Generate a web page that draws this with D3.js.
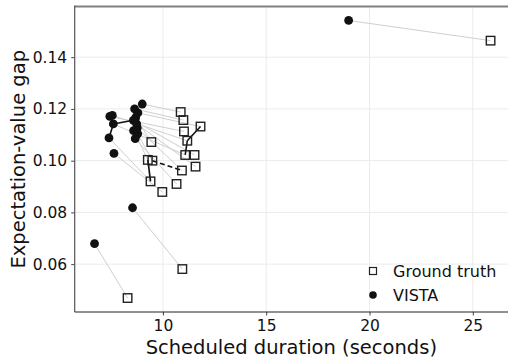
<!DOCTYPE html>
<html>
<head>
<meta charset="utf-8">
<script src="https://cdn.jsdelivr.net/npm/d3@7"></script>
<style>
  body { margin: 0; background: #fff; }
  text { font-family: "DejaVu Sans", sans-serif; fill: #111; }
</style>
</head>
<body>
<div id="chart"></div>
<script>
// VISTA predictions (filled circles), paired by index with the ground truth
const vistaX = [9.00, 8.63, 8.79, 7.43, 8.68, 7.55, 7.60, 8.57, 8.58, 8.78, 8.76, 8.73, 7.39, 8.66, 7.63, 8.53, 6.69, 18.99];
const vistaY = [0.1219, 0.1200, 0.1185, 0.1171, 0.1166, 0.1175, 0.1142, 0.1156, 0.1116, 0.1104, 0.1126, 0.1142, 0.1088, 0.1085, 0.1028, 0.0818, 0.0679, 0.1542];
// ground truth (open squares)
const truthX = [10.86, 10.99, 11.82, 11.02, 9.44, 11.18, 11.08, 11.53, 9.27, 9.49, 10.92, 11.58, 9.40, 10.66, 9.97, 10.94, 8.29, 25.86];
const truthY = [0.1188, 0.1157, 0.1132, 0.1113, 0.1072, 0.1077, 0.1022, 0.1022, 0.1003, 0.1000, 0.0962, 0.0977, 0.0920, 0.0910, 0.0879, 0.0581, 0.0469, 0.1464];
// dark links between points of the same kind (index pairs)
const vistaLinks = [[3, 6], [6, 12], [6, 7], [1, 7]];
const truthLinks = [[2, 5], [12, 8], [5, 6]];
const truthDashed = [[9, 10]];

const xTicks = [10, 15, 20, 25];
const yTicks = [0.06, 0.08, 0.10, 0.12, 0.14];
const xLabel = 'Scheduled duration (seconds)';
const yLabel = 'Expectation-value gap';
const legendNames = ['Ground truth', 'VISTA'];

const W = 508, H = 358;
const margin = { top: 6.5, right: -2.4, bottom: 46, left: 74.7 };

const x = d3.scaleLinear().domain([5.73, 26.82]).range([margin.left, W - margin.right]);
const y = d3.scaleLinear().domain([0.0415, 0.1596]).range([H - margin.bottom, margin.top]);

const svg = d3.select('#chart').append('svg')
  .attr('width', W).attr('height', H);

// grid
svg.append('g').selectAll('line').data(xTicks).enter().append('line')
  .attr('x1', d => x(d)).attr('x2', d => x(d))
  .attr('y1', margin.top).attr('y2', H - margin.bottom)
  .attr('stroke', '#ebebeb').attr('stroke-width', 1);
svg.append('g').selectAll('line').data(yTicks).enter().append('line')
  .attr('x1', margin.left).attr('x2', W)
  .attr('y1', d => y(d)).attr('y2', d => y(d))
  .attr('stroke', '#ebebeb').attr('stroke-width', 1);

// axes
const xAxis = svg.append('g')
  .attr('transform', 'translate(0,' + (H - margin.bottom) + ')')
  .call(d3.axisBottom(x).tickValues(xTicks).tickSize(3.5).tickPadding(4.5).tickFormat(d3.format('d')));
const yAxis = svg.append('g')
  .attr('transform', 'translate(' + margin.left + ',0)')
  .call(d3.axisLeft(y).tickValues(yTicks).tickSize(3.5).tickPadding(4).tickFormat(d3.format('.2f')));
[xAxis, yAxis].forEach(a => {
  a.select('.domain').remove();
  a.selectAll('.tick line').attr('stroke', '#444');
  a.selectAll('.tick text').style('font-size', '15.5px').attr('fill', '#111');
});

// spines
svg.append('line').attr('x1', margin.left).attr('x2', W)
  .attr('y1', margin.top).attr('y2', margin.top)
  .attr('stroke', '#808080').attr('stroke-width', 2);
svg.append('line').attr('x1', margin.left).attr('x2', margin.left)
  .attr('y1', margin.top - 1).attr('y2', H - margin.bottom)
  .attr('stroke', '#555').attr('stroke-width', 1.2);
svg.append('line').attr('x1', margin.left).attr('x2', W)
  .attr('y1', H - margin.bottom).attr('y2', H - margin.bottom)
  .attr('stroke', '#222').attr('stroke-width', 1);

// pair lines
svg.append('g').selectAll('line').data(vistaX).enter().append('line')
  .attr('x1', (d, i) => x(vistaX[i])).attr('y1', (d, i) => y(vistaY[i]))
  .attr('x2', (d, i) => x(truthX[i])).attr('y2', (d, i) => y(truthY[i]))
  .attr('stroke', '#cfcfcf').attr('stroke-width', 1);

// dark links
const links = svg.append('g').attr('stroke', '#111').attr('stroke-width', 1.6);
links.selectAll('.vl').data(vistaLinks).enter().append('line')
  .attr('x1', d => x(vistaX[d[0]])).attr('y1', d => y(vistaY[d[0]]))
  .attr('x2', d => x(vistaX[d[1]])).attr('y2', d => y(vistaY[d[1]]));
links.selectAll('.tl').data(truthLinks).enter().append('line')
  .attr('x1', d => x(truthX[d[0]])).attr('y1', d => y(truthY[d[0]]))
  .attr('x2', d => x(truthX[d[1]])).attr('y2', d => y(truthY[d[1]]));
links.selectAll('.td').data(truthDashed).enter().append('line')
  .attr('stroke-dasharray', '5,3')
  .attr('x1', d => x(truthX[d[0]])).attr('y1', d => y(truthY[d[0]]))
  .attr('x2', d => x(truthX[d[1]])).attr('y2', d => y(truthY[d[1]]));

// ground truth squares
const s = 8.5;
svg.append('g').selectAll('rect').data(truthX).enter().append('rect')
  .attr('x', (d, i) => x(truthX[i]) - s / 2).attr('y', (d, i) => y(truthY[i]) - s / 2)
  .attr('width', s).attr('height', s)
  .attr('fill', 'none').attr('stroke', '#222').attr('stroke-width', 1.4);

// VISTA circles
svg.append('g').selectAll('circle').data(vistaX).enter().append('circle')
  .attr('cx', (d, i) => x(vistaX[i])).attr('cy', (d, i) => y(vistaY[i]))
  .attr('r', 4.4).attr('fill', '#111');

// legend
const lg = svg.append('g');
lg.append('rect').attr('x', 369.5).attr('y', 267.5).attr('width', 7).attr('height', 7)
  .attr('fill', 'none').attr('stroke', '#222').attr('stroke-width', 1.2);
lg.append('circle').attr('cx', 373).attr('cy', 295).attr('r', 3.8).attr('fill', '#111');
lg.selectAll('text').data(legendNames).enter().append('text')
  .attr('x', 393).attr('y', (d, i) => 276.5 + i * 24)
  .style('font-size', '16px').text(d => d);

// axis labels
svg.append('text').attr('x', (margin.left + 508) / 2).attr('y', 353.5)
  .attr('text-anchor', 'middle').style('font-size', '19.5px').text(xLabel);
svg.append('text')
  .attr('transform', 'translate(25,' + ((margin.top + H - margin.bottom) / 2) + ') rotate(-90)')
  .attr('text-anchor', 'middle').style('font-size', '19.5px').text(yLabel);
</script>
</body>
</html>
